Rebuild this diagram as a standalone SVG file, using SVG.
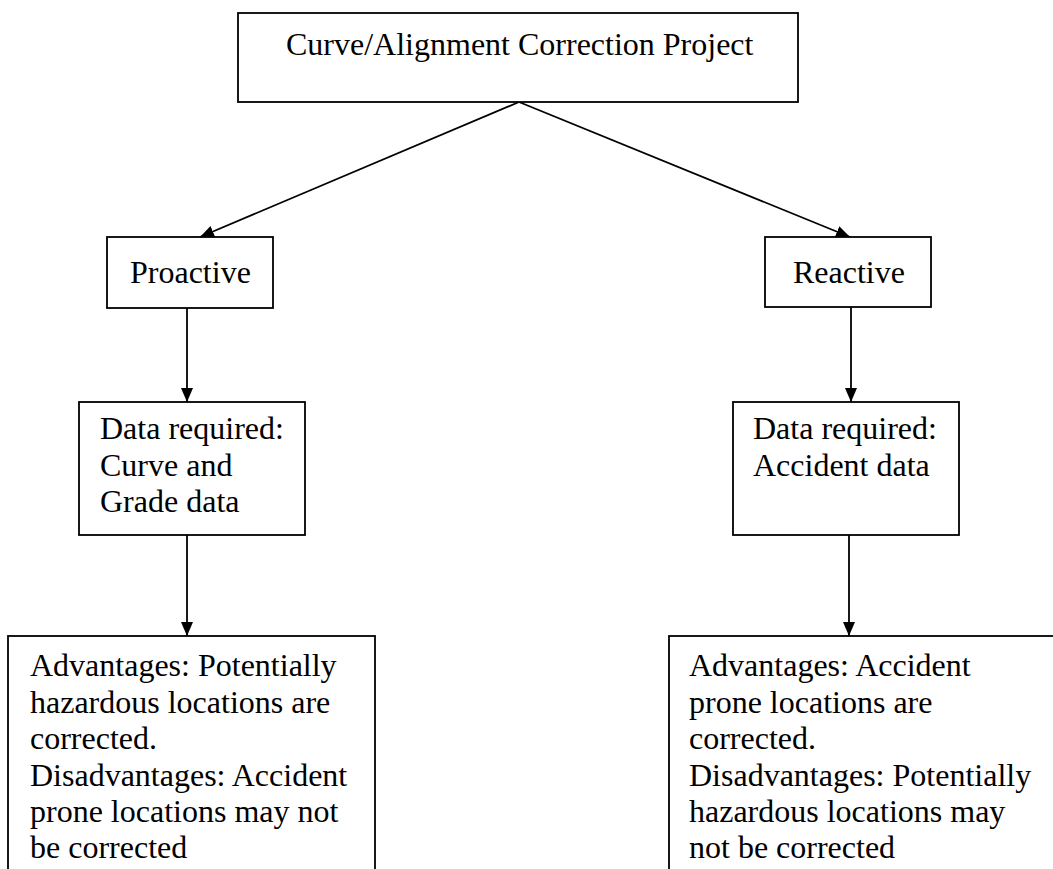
<svg xmlns="http://www.w3.org/2000/svg" width="1053" height="869" viewBox="0 0 1053 869">
<defs>
<marker id="ah" viewBox="0 0 14 12" refX="14" refY="6" markerWidth="14" markerHeight="12" markerUnits="userSpaceOnUse" orient="auto">
<path d="M0,0 L14,6 L0,12 Z" fill="#000"/>
</marker>
<style>
.box{fill:#fff;stroke:#000;stroke-width:1.8}
.t{font-family:"Liberation Serif","Times New Roman",serif;font-size:32px;fill:#000}
.c{stroke:#000;stroke-width:1.8;fill:none;marker-end:url(#ah)}
</style>
</defs>
<rect width="1053" height="869" fill="#fff"/>
<g id="connectors">
<line class="c" x1="519" y1="102" x2="200" y2="237"/>
<line class="c" x1="519" y1="102" x2="850" y2="237"/>
<line class="c" x1="187" y1="308" x2="187" y2="402"/>
<line class="c" x1="851" y1="307" x2="851" y2="402"/>
<line class="c" x1="187" y1="535" x2="187" y2="636"/>
<line class="c" x1="849" y1="535" x2="849" y2="636"/>
</g>
<g id="project">
<rect class="box" x="238" y="13" width="560" height="89"/>
<text class="t" x="286" y="55">Curve/Alignment Correction Project</text>
</g>
<g id="proactive">
<rect class="box" x="107" y="237" width="166" height="71"/>
<text class="t" x="130" y="283">Proactive</text>
</g>
<g id="reactive">
<rect class="box" x="765" y="237" width="166" height="70"/>
<text class="t" x="793" y="283">Reactive</text>
</g>
<g id="data-proactive">
<rect class="box" x="79" y="402" width="226" height="133"/>
<text class="t" x="100" y="439">Data required:</text>
<text class="t" x="100" y="476">Curve and</text>
<text class="t" x="100" y="512">Grade data</text>
</g>
<g id="data-reactive">
<rect class="box" x="733" y="402" width="226" height="133"/>
<text class="t" x="753" y="439">Data required:</text>
<text class="t" x="753" y="476">Accident data</text>
</g>
<g id="adv-proactive">
<rect class="box" x="8" y="636" width="367" height="260"/>
<text class="t" x="30" y="676">Advantages: Potentially</text>
<text class="t" x="30" y="713">hazardous locations are</text>
<text class="t" x="30" y="749">corrected.</text>
<text class="t" x="30" y="786">Disadvantages: Accident</text>
<text class="t" x="30" y="822">prone locations may not</text>
<text class="t" x="30" y="858">be corrected</text>
</g>
<g id="adv-reactive">
<rect class="box" x="669" y="636" width="420" height="260"/>
<text class="t" x="689" y="676">Advantages: Accident</text>
<text class="t" x="689" y="713">prone locations are</text>
<text class="t" x="689" y="749">corrected.</text>
<text class="t" x="689" y="786">Disadvantages: Potentially</text>
<text class="t" x="689" y="822">hazardous locations may</text>
<text class="t" x="689" y="858">not be corrected</text>
</g>
</svg>
